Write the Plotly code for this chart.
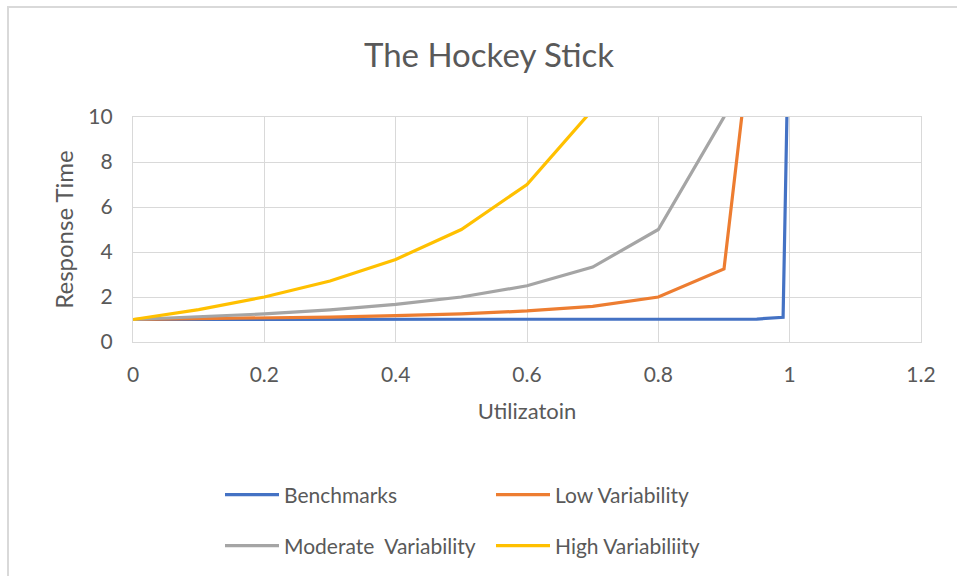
import plotly.graph_objects as go

# Utilization levels (shared by all series)
utilization = [0.0, 0.1, 0.2, 0.3, 0.4, 0.5, 0.6, 0.7, 0.8, 0.9, 0.99]
benchmark_util = [0.0, 0.1, 0.2, 0.3, 0.4, 0.5, 0.6, 0.7, 0.8, 0.9, 0.95, 0.99, 0.999]

# Response times per variability level
benchmarks = [1.0, 1.0, 1.0, 1.0, 1.0, 1.0, 1.0, 1.0, 1.0, 1.0, 1.02, 1.1, 15.0]
low_var = [1.0, 1.03, 1.06, 1.11, 1.17, 1.25, 1.38, 1.58, 2.0, 3.25, 25.75]
moderate_var = [1.0, 1.11, 1.25, 1.43, 1.67, 2.0, 2.5, 3.33, 5.0, 10.0, 100.0]
high_var = [1.0, 1.44, 2.0, 2.71, 3.67, 5.0, 7.0, 10.33]

x_ticks = [0, 0.2, 0.4, 0.6, 0.8, 1.0, 1.2]
y_ticks = [0, 2, 4, 6, 8, 10]

TEXT = "#595959"
GRID = "#D9D9D9"
FONT = "Lato"

W, H = 957, 576
L, R, T, B = 133, 36, 117, 234
PW, PH = W - L - R, H - T - B


def px_x(px):
    return (px - L) / PW


def px_y(py):
    return (H - B - py) / PH


fig = go.Figure()
fig.add_trace(go.Scatter(x=benchmark_util, y=benchmarks, mode="lines", name="Benchmarks",
                         line=dict(color="#4472C4", width=3.2), legend="legend"))
fig.add_trace(go.Scatter(x=utilization, y=low_var, mode="lines", name="Low Variability",
                         line=dict(color="#ED7D31", width=3.2), legend="legend"))
fig.add_trace(go.Scatter(x=utilization, y=moderate_var, mode="lines", name="Moderate  Variability",
                         line=dict(color="#A5A5A5", width=3.2), legend="legend2"))
fig.add_trace(go.Scatter(x=utilization[:len(high_var)], y=high_var, mode="lines",
                         name="High Variabiliity",
                         line=dict(color="#FFC000", width=3.2), legend="legend2"))

legend_common = dict(
    orientation="h", xanchor="left", yanchor="middle",
    font=dict(family=FONT, size=21, color=TEXT),
    itemwidth=54, entrywidth=202, entrywidthmode="pixels",
    bgcolor="rgba(0,0,0,0)", traceorder="normal",
)

axis_common = dict(
    showgrid=True, gridcolor=GRID, gridwidth=1.3,
    showline=True, linecolor=GRID, linewidth=1.3, mirror=True,
    zeroline=False, ticks="",
    tickfont=dict(family=FONT, size=21, color=TEXT),
)

fig.update_layout(
    width=W, height=H,
    margin=dict(l=L, r=R, t=T, b=B, autoexpand=False),
    paper_bgcolor="white", plot_bgcolor="white",
    title=dict(text="The Hockey Stick", x=489 / W, xanchor="center",
               y=1 - 55 / H, yanchor="middle", yref="container",
               font=dict(family=FONT, size=33, color=TEXT)),
    xaxis=dict(range=[0, 1.2], tickvals=x_ticks, ticktext=[f"{v:g}" for v in x_ticks],
               title=dict(text="Utilizatoin", standoff=18,
                          font=dict(family=FONT, size=22, color=TEXT)),
               ticklabelstandoff=14, **axis_common),
    yaxis=dict(range=[0, 10], tickvals=y_ticks,
               title=dict(text="Response Time", standoff=7,
                          font=dict(family=FONT, size=24, color=TEXT)),
               ticklabelstandoff=15, **axis_common),
    legend=dict(x=px_x(220), y=px_y(495), **legend_common),
    legend2=dict(x=px_x(220), y=px_y(546), **legend_common),
    shapes=[dict(type="rect", xref="paper", yref="paper",
                 x0=px_x(8), x1=px_x(W + 10), y0=px_y(H + 10), y1=px_y(7),
                 line=dict(color=GRID, width=2), fillcolor="rgba(0,0,0,0)", layer="below")],
)

fig.write_html("out.html")
